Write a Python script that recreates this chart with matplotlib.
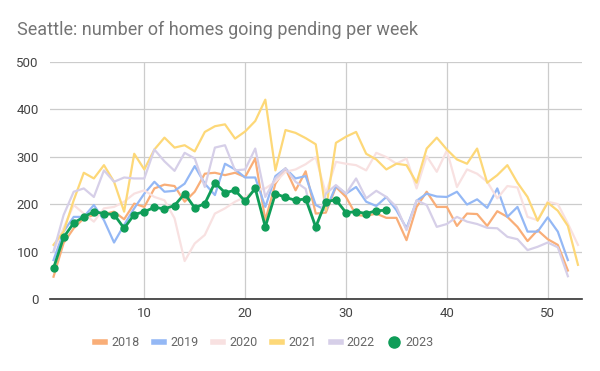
import numpy as np
import matplotlib
matplotlib.use("Agg")
import matplotlib.pyplot as plt
from matplotlib.lines import Line2D

plt.rcParams['font.family'] = ['Roboto', 'DejaVu Sans']

# weekly pending counts
y2018 = [47, 118, 149, 170, 177, 179, 184, 168, 201, 194, 233, 241, 238, 205, 226, 264, 266, 261,
         266, 257, 296, 166, 243, 275, 229, 269, 180, 182, 236, 215, 177, 175, 180, 171, 171, 124,
         194, 226, 194, 194, 154, 180, 179, 154, 185, 173, 152, 122, 145, 126, 114, 60]
y2019 = [82, 142, 173, 173, 198, 166, 119, 156, 191, 222, 247, 226, 228, 243, 280, 243, 219, 285,
         273, 256, 256, 194, 259, 275, 254, 259, 198, 187, 238, 222, 236, 205, 196, 215, 187, 149,
         207, 222, 216, 215, 226, 199, 210, 192, 233, 173, 194, 142, 142, 172, 142, 82]
y2020 = [100, 150, 198, 180, 163, 191, 194, 205, 222, 229, 215, 208, 170, 80, 117, 135, 180, 191,
         205, 215, 229, 233, 247, 268, 273, 284, 299, 222, 289, 285, 282, 271, 308, 299, 285, 296,
         233, 301, 268, 313, 236, 273, 264, 247, 212, 238, 235, 173, 166, 205, 200, 159, 114]
y2021 = [114, 142, 208, 266, 254, 282, 247, 184, 306, 273, 315, 340, 319, 324, 311, 352, 364, 368,
         338, 353, 375, 420, 271, 356, 350, 339, 326, 187, 329, 342, 352, 306, 294, 273, 285, 282,
         245, 317, 340, 315, 294, 285, 317, 245, 261, 282, 245, 215, 165, 203, 186, 154, 72]
y2022 = [100, 177, 226, 233, 215, 271, 247, 256, 254, 254, 315, 290, 270, 308, 296, 236, 319, 324,
         271, 273, 317, 215, 254, 275, 247, 232, 142, 222, 240, 222, 254, 212, 228, 215, 194, 145,
         208, 198, 152, 158, 173, 163, 158, 150, 149, 131, 126, 103, 110, 119, 109, 48]
y2023 = [65, 130, 160, 173, 184, 180, 178, 149, 178, 184, 193, 190, 197, 222, 192, 201, 245, 224,
         229, 206, 233, 152, 222, 214, 208, 211, 152, 205, 209, 182, 184, 180, 186, 187]

years = ['2018', '2019', '2020', '2021', '2022', '2023']
colors = ['#f9ae78', '#94b8f5', '#f8e1e1', '#fdd878', '#d6cfe8', '#0f9d58']
series = [y2018, y2019, y2020, y2021, y2022, y2023]

fig = plt.figure(figsize=(6, 3.71), dpi=100)
ax = fig.add_axes([50/600, 1-299/371, 532/600, 237.3/371])

for name, c, vals in zip(years, colors, series):
    wk = np.arange(1, len(vals) + 1)
    if name == '2023':
        ax.plot(wk, vals, color=c, lw=2.0, marker='o', ms=5, zorder=5)
    else:
        ax.plot(wk, vals, color=c, lw=1.6, zorder=3)

ax.set_xlim(0.65, 53.4)
ax.set_ylim(0, 500)
ax.set_yticks(range(0, 501, 100))
ax.set_xticks(range(10, 51, 10))
ax.grid(True, color='#cccccc', lw=0.9)
ax.set_axisbelow(True)
for s in ['top', 'right', 'left']:
    ax.spines[s].set_visible(False)
ax.spines['bottom'].set_color('#333333')
ax.spines['bottom'].set_linewidth(1.2)
ax.tick_params(length=0, labelsize=9.5, labelcolor='#444444', pad=6)
ax.tick_params(axis='y', pad=8)

fig.text(17/600, 1-30/371, 'Seattle: number of homes going pending per week',
         fontsize=13, color='#757575', va='center')

handles = [Line2D([], [], color=c, lw=4) for c in colors[:5]]
handles.append(Line2D([], [], color=colors[5], ls='none', marker='o', ms=8))
leg = fig.legend(handles, years, loc='center left', bbox_to_anchor=(84/600, 1-343/371),
                 ncol=6, frameon=False, fontsize=9, handlelength=0.8, handletextpad=0.5,
                 columnspacing=1.15, labelcolor='#666666')

fig.savefig('out.png', dpi=100)
